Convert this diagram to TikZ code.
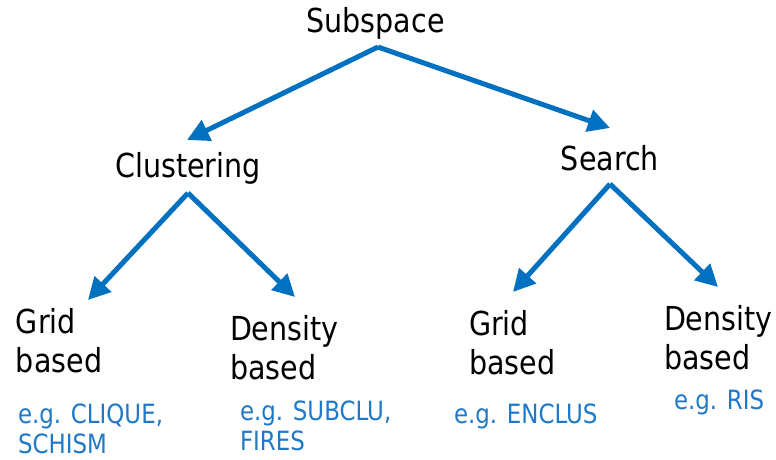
\documentclass[tikz,border=0pt]{standalone}
\usepackage{fontspec}
\setmainfont{DejaVu Sans}[FakeStretch=0.865]
\usetikzlibrary{arrows.meta,calc}
\definecolor{mblue}{HTML}{0070C0}
\definecolor{tblue}{HTML}{1F78C8}
\tikzset{
  lbl/.style={inner sep=0pt, outer sep=0pt, align=left, font=\fontsize{33}{39}\selectfont, text=black},
  ex/.style={inner sep=0pt, outer sep=0pt, align=left, font=\fontsize{26.5}{30}\selectfont, text=tblue},
  arr/.style={draw=mblue, line width=5pt, -{Triangle[length=22pt,width=22pt]}}
}
\begin{document}
\begin{tikzpicture}[x=1pt,y=-1pt]
\useasboundingbox (0,0) rectangle (776,459);
\node[lbl, anchor=base] (sub) at (375.5,32) {Subspace};
\node[lbl, anchor=base] (clu) at (188,177) {Clustering};
\node[lbl, anchor=base] (sea) at (610,170) {Search};
\node[lbl, anchor=base west] (g1) at (16,372) {Grid\\based};
\node[lbl, anchor=base west] (d1) at (230,379) {Density\\based};
\node[lbl, anchor=base west] (g2) at (469,374) {Grid\\based};
\node[lbl, anchor=base west] (d2) at (664,369) {Density\\based};
\node[ex, anchor=base west] (e1) at (18,453) {e.g. CLIQUE,\\SCHISM};
\node[ex, anchor=base west] (e2) at (240,450) {e.g. SUBCLU,\\FIRES};
\node[ex, anchor=base west] (e3) at (454,423) {e.g. ENCLUS};
\node[ex, anchor=base west] (e4) at (674,409) {e.g. RIS};
\draw[arr] ($(sub.base)+(2.5,15)$) -- ($(clu.base)+(-1,-37)$);
\draw[arr] ($(sub.base)+(2.5,15)$) -- ($(sea.base)+(0,-42)$);
\draw[arr] ($(clu.base)+(0,16)$) -- ($(g1.base west)+(72,-72)$);
\draw[arr] ($(clu.base)+(0,16)$) -- ($(d1.base west)+(65,-82)$);
\draw[arr] ($(sea.base)+(0,14)$) -- ($(g2.base west)+(44,-82)$);
\draw[arr] ($(sea.base)+(0,14)$) -- ($(d2.base west)+(54,-82)$);
\end{tikzpicture}
\end{document}
